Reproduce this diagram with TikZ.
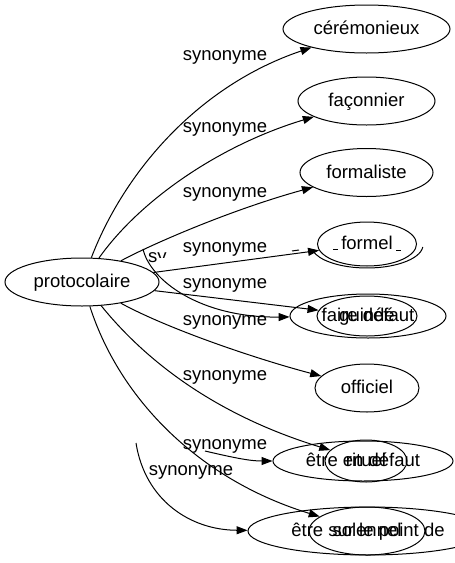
\documentclass[tikz,border=0pt]{standalone}
\usepackage{fontspec}
\setmainfont{Liberation Sans}
\usetikzlibrary{shapes.geometric,arrows.meta}

\begin{document}
\begin{tikzpicture}[x=1pt,y=-1pt,line width=1pt,
    word/.style={draw,ellipse,inner sep=0pt,text height=15pt,text depth=4pt,font=\fontsize{18.5}{22}\selectfont},
    lab/.style={inner sep=0pt,font=\fontsize{18.5}{22}\selectfont},
    >={Triangle[length=11pt,width=8pt]}]
    \useasboundingbox (0,0) rectangle (455,563);
    \clip (0,0) rectangle (455,563);
    \node[word,minimum width=154pt,minimum height=48pt] (P) at (82,282) {protocolaire};
    \node[word,minimum width=167pt,minimum height=48pt] (S1) at (366.5,29) {cérémonieux};
    \node[word,minimum width=137pt,minimum height=48pt] (S2) at (366.5,101) {façonnier};
    \node[word,minimum width=133pt,minimum height=48pt] (S3) at (366.5,172.5) {formaliste};
    \node[word,minimum width=99pt,minimum height=44pt] (S4) at (367,244) {formel};
    \node[word,minimum width=100pt,minimum height=40pt] (S5) at (367,316) {guindé};
    \node[word,minimum width=104pt,minimum height=48pt] (S6) at (367,388) {officiel};
    \node[word,minimum width=82pt,minimum height=42pt] (S7) at (366,461) {rituel};
    \node[word,minimum width=116pt,minimum height=48pt] (S8) at (367,531) {solennel};
    \node[word,minimum width=156pt,minimum height=44pt] (T1) at (368,316) {faire défaut};
    \node[word,minimum width=180pt,minimum height=40pt] (T2) at (363,461) {être en défaut};
    \node[word,minimum width=240pt,minimum height=48pt] (T3) at (368,531) {être sur le point de};
    \node[lab] (L1) at (225,57) {synonyme};
    \node[lab] (L2) at (225,129) {synonyme};
    \node[lab] (L3) at (225,194) {synonyme};
    \node[lab] (L4) at (225,249) {synonyme};
    \node[lab] (L5) at (225,285) {synonyme};
    \node[lab] (L6) at (225,322) {synonyme};
    \node[lab] (L7) at (225,377) {synonyme};
    \node[lab] (L8) at (225,446) {synonyme};
    \node[lab] (L9) at (191,472) {synonyme};
    \begin{scope}
      \clip (145,245) rectangle (156,266) (156,245) rectangle (166,257.5);
      \node[lab,anchor=west] (L0) at (147.5,259.6) {synonyme};
    \end{scope}
    \coordinate (B1) at (143,249);
    \coordinate (B2) at (205,451);
    \coordinate (B3) at (136,443);
    \draw[->] (P) .. controls (125,170) and (200,85) .. (S1);
    \draw[->] (P) .. controls (140,200) and (220,145) .. (S2);
    \draw[->] (P) .. controls (150,245) and (230,210) .. (S3);
    \draw[->] (P) -- (S4);
    \draw[->] (P) -- (S5);
    \draw[->] (P) .. controls (170,330) and (260,360) .. (S6);
    \draw[->] (P) .. controls (150,366) and (222,417) .. (S7);
    \draw[->] (P) .. controls (120,400) and (200,480) .. (S8);
    \draw[->] (B1) .. controls (150,280) and (200,318) .. (T1);
    \draw[->] (B2) .. controls (235,458) and (250,461) .. (T2);
    \draw[->] (B3) .. controls (145,500) and (190,530) .. (T3);
    \draw (422.8,247) arc[start angle=5,end angle=165,x radius=56,y radius=23];
    \draw (333,249) -- (338,249);
    \draw (396,250) -- (401,250);
    \draw (292,251) -- (299,250);
\end{tikzpicture}
\end{document}
